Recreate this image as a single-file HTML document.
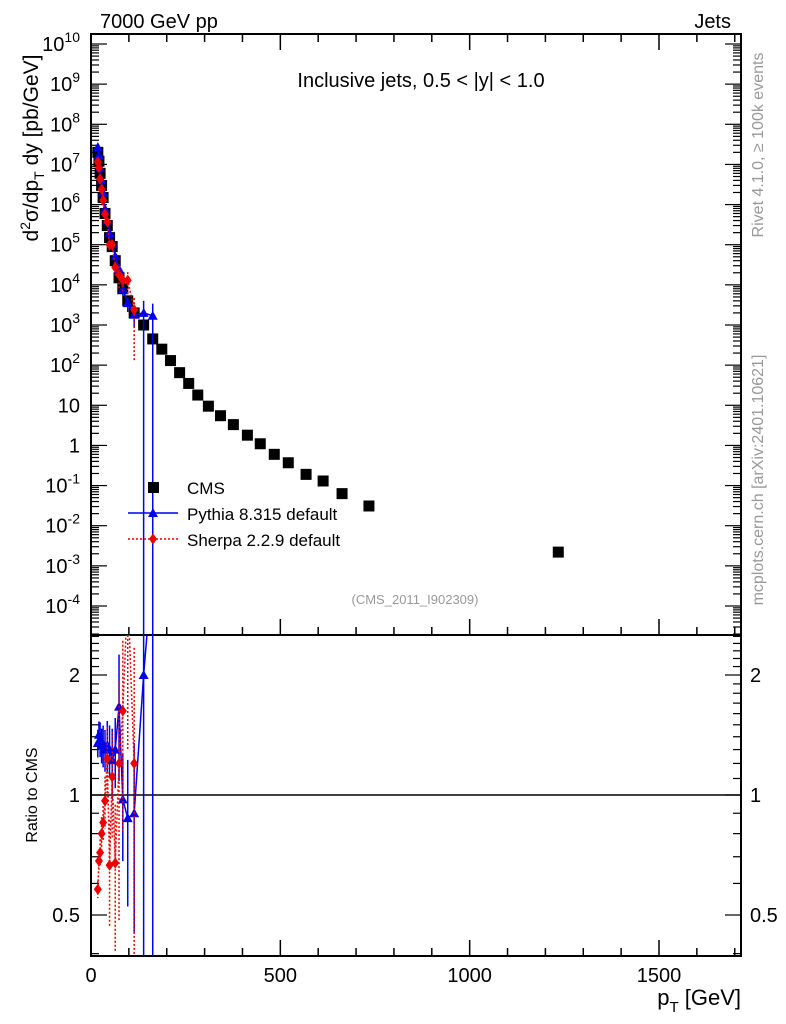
<!DOCTYPE html>
<html><head><meta charset="utf-8">
<style>
html,body{margin:0;padding:0;background:#fff;}
svg{display:block;font-family:"Liberation Sans",sans-serif;}
</style></head>
<body>
<svg id="chart" width="786" height="1024" viewBox="0 0 786 1024">
<g id="main"></g>
<text x="100" y="28" font-size="20">7000 GeV pp</text>
<text x="731" y="28" font-size="20" text-anchor="end">Jets</text>
<text x="421" y="87" font-size="20" text-anchor="middle">Inclusive jets, 0.5 &lt; |y| &lt; 1.0</text>
<text x="415" y="604" font-size="13" fill="#999" text-anchor="middle">(CMS_2011_I902309)</text>
<text transform="translate(38,148) rotate(-90)" font-size="21" text-anchor="middle">d<tspan font-size="14" dy="-8">2</tspan><tspan dy="8">σ/dp</tspan><tspan font-size="14" dy="6">T</tspan><tspan dy="-6"> dy [pb/GeV]</tspan></text>
<text transform="translate(37,795) rotate(-90)" font-size="16" text-anchor="middle">Ratio to CMS</text>
<text x="741" y="1005" font-size="22" text-anchor="end">p<tspan font-size="15" dy="7">T</tspan><tspan dy="-7"> [GeV]</tspan></text>
<text transform="translate(763,145) rotate(-90)" font-size="16" fill="#999" text-anchor="middle">Rivet 4.1.0, ≥ 100k events</text>
<text transform="translate(763,480) rotate(-90)" font-size="16" fill="#999" text-anchor="middle">mcplots.cern.ch [arXiv:2401.10621]</text>
</svg>
<script>
const cmsPt=[18,21,24,28,32,37,43,49,56,64,74,84,97,114,139,163,187,210,234,258,282,310,342,376,413,447,484,521,568,613,663,734,1234];
const cmsVal=[2e7,1.2e7,6e6,3e6,1.5e6,6e5,3e5,1.5e5,9e4,4e4,1.5e4,8e3,4e3,2e3,1000,450,250,130,65,35,18,9.5,5.5,3.3,1.8,1.1,0.6,0.37,0.19,0.13,0.063,0.031,0.0022];
const pyPt=[18,21,24,28,32,37,43,49,56,64,74,84,97,114,139,163];
const pyVal=[2.7e7,1.7e7,8.3e6,4e6,2e6,7.8e5,4e5,1.95e5,1.1e5,5.2e4,2.5e4,7.8e3,3.5e3,1.8e3,2e3,1.7e3];
const pyErr=[0.08,0.08,0.1,0.1,0.12,0.12,0.15,0.15,0.2,0.2,0.35,0.3,0.4,0.5,1,1];
const shPt=[18,21,24,28,32,37,43,49,56,64,74,84,97,114];
const shVal=[1.16e7,8.2e6,4.3e6,2.4e6,1.28e6,5.8e5,3.7e5,1.0e5,1.0e5,2.7e4,1.8e4,1.3e4,1.3e4,2.4e3];
const shErr=[0.05,0.05,0.08,0.1,0.1,0.15,0.2,0.3,0.3,0.4,0.6,0.5,0.6,0.95];
const yTickExp=[10,9,8,7,6,5,4,3,2,1,0,-1,-2,-3,-4];
const xTicks=[0,500,1000,1500];
const ratioTicks=[2,1,0.5];

const NS="http://www.w3.org/2000/svg";
const svg=document.getElementById('main');
const L=91,R=741,T=34,MB=635,RB=956;
const X=v=>L+v*(659-L)/1500;
const Y=v=>606-(Math.log10(v)+4)*(606-44)/14;
const RY=r=>795-Math.log2(r)*120;
function el(tag,attrs,parent,text){const e=document.createElementNS(NS,tag);for(const k in attrs)e.setAttribute(k,attrs[k]);if(text!==undefined)e.textContent=text;(parent||svg).appendChild(e);return e;}
function clampM(y){return Math.max(T,Math.min(MB,y));}
function clampR(y){return Math.max(MB,Math.min(RB,y));}

let f=el('rect',{x:L,y:T,width:R-L,height:MB-T,fill:'none',stroke:'#000','stroke-width':2});


f=el('rect',{x:L,y:MB,width:R-L,height:RB-MB,fill:'none',stroke:'#000','stroke-width':2});



for(let v=0;v<=1700;v+=100){
  const x=X(v),maj=v%500===0,len=maj?16:8;
  el('line',{x1:x,y1:MB,x2:x,y2:MB-len,stroke:'#000','stroke-width':1.5});
  el('line',{x1:x,y1:T,x2:x,y2:T+len,stroke:'#000','stroke-width':1.5});
  el('line',{x1:x,y1:RB,x2:x,y2:RB-len,stroke:'#000','stroke-width':1.5});
}
xTicks.forEach(v=>{
  const t=el('text',{x:X(v),y:982,'font-size':20,'text-anchor':'middle'},svg,String(v));
  
  
});
for(let e=-5;e<=10;e++){
  for(let m=1;m<10;m++){
    const v=m*Math.pow(10,e);const y=Y(v);if(y<T||y>MB)continue;
    const len=m===1?16:8;
    el('line',{x1:L,y1:y,x2:L+len,y2:y,stroke:'#000','stroke-width':1.2});
    el('line',{x1:R,y1:y,x2:R-len,y2:y,stroke:'#000','stroke-width':1.2});
  }
}
yTickExp.forEach(e=>{
  const y=Y(Math.pow(10,e));
  let t;
  if(e===1||e===0){t=el('text',{x:80,y:y+7,'font-size':20,'text-anchor':'end'},svg,e===1?'10':'1');}
  else{t=el('text',{x:80,y:y+7,'font-size':20,'text-anchor':'end'});
    el('tspan',{},t,'10');el('tspan',{'font-size':14,dy:-9},t,String(e));}
  
  
});
for(let r=0.4;r<=2.6;r=Math.round((r+0.1)*10)/10){
  const y=RY(r);if(y<MB||y>RB)continue;
  const maj=[0.5,1,2].includes(r);const len=maj?16:8;
  el('line',{x1:L,y1:y,x2:L+len,y2:y,stroke:'#000','stroke-width':1.2});
  el('line',{x1:R,y1:y,x2:R-len,y2:y,stroke:'#000','stroke-width':1.2});
}
ratioTicks.forEach(r=>{
  let t=el('text',{x:80,y:RY(r)+7,'font-size':20,'text-anchor':'end'},svg,String(r));
  
  
  t=el('text',{x:750,y:RY(r)+7,'font-size':20},svg,String(r));
  
  
});
let ln=el('line',{x1:L,y1:RY(1),x2:R,y2:RY(1),stroke:'#000','stroke-width':1.5});



function diamond(x,y,s,c,p){return el('polygon',{points:`${x},${y-s*1.4} ${x+s},${y} ${x},${y+s*1.4} ${x-s},${y}`,fill:c},p);}
function tri(x,y,s,c,p){return el('polygon',{points:`${x},${y-s} ${x+s},${y+s*0.8} ${x-s},${y+s*0.8}`,fill:c},p);}
const gc=el('g',{});
cmsPt.forEach((p,i)=>{const x=X(p),y=Y(cmsVal[i]);el('rect',{x:x-5.5,y:y-5.5,width:11,height:11,fill:'#000'},gc);});
const gp=el('g',{});
el('polyline',{points:pyPt.map((p,i)=>X(p)+','+Y(pyVal[i])).join(' '),fill:'none',stroke:'#0000ee','stroke-width':1.5},gp);
pyPt.forEach((p,i)=>{const x=X(p),v=pyVal[i],e=pyErr[i];
  el('line',{x1:x,y1:clampM(Y(v*(1+e))),x2:x,y2:clampM(Y(Math.max(v*(1-e),1e-6))),stroke:'#0000ee','stroke-width':1.5},gp);
  tri(x,Y(v),5,'#0000ee',gp);});
const gs=el('g',{});
el('polyline',{points:shPt.map((p,i)=>X(p)+','+Y(shVal[i])).join(' '),fill:'none',stroke:'#ee0000','stroke-width':1.5,'stroke-dasharray':'2,2'},gs);
shPt.forEach((p,i)=>{const x=X(p),v=shVal[i],e=shErr[i];
  el('line',{x1:x,y1:clampM(Y(v*(1+e))),x2:x,y2:clampM(Y(Math.max(v*(1-e),1e-6))),stroke:'#ee0000','stroke-width':1.5,'stroke-dasharray':'2,2'},gs);
  diamond(x,Y(v),4,'#ee0000',gs);});

const cp=document.createElementNS(NS,'clipPath');cp.id='rc';svg.appendChild(cp);
el('rect',{x:L,y:MB,width:R-L,height:RB-MB},cp);
const rp=el('g',{'clip-path':'url(#rc)'});
el('polyline',{points:pyPt.map((p,i)=>X(p)+','+RY(pyVal[i]/cmsVal[i])).join(' '),fill:'none',stroke:'#0000ee','stroke-width':1.5},rp);
pyPt.forEach((p,i)=>{const x=X(p),r=pyVal[i]/cmsVal[i],e=pyErr[i];
  el('line',{x1:x,y1:clampR(RY(r*(1+e))),x2:x,y2:clampR(RY(Math.max(r*(1-e),0.01))),stroke:'#0000ee','stroke-width':1.5},rp);
  tri(x,RY(r),5,'#0000ee',rp);});
const rs=el('g',{'clip-path':'url(#rc)'});
el('polyline',{points:shPt.map((p,i)=>X(p)+','+RY(shVal[i]/cmsVal[i])).join(' '),fill:'none',stroke:'#ee0000','stroke-width':1.5,'stroke-dasharray':'2,2'},rs);
shPt.forEach((p,i)=>{const x=X(p),r=shVal[i]/cmsVal[i],e=shErr[i];
  el('line',{x1:x,y1:clampR(RY(r*(1+e))),x2:x,y2:clampR(RY(Math.max(r*(1-e),0.01))),stroke:'#ee0000','stroke-width':1.5,'stroke-dasharray':'2,2'},rs);
  diamond(x,RY(r),4,'#ee0000',rs);});

const lg=el('g',{});
el('rect',{x:148,y:482,width:11,height:11,fill:'#000'},lg);
el('text',{x:187,y:494,'font-size':17},lg,'CMS');
el('line',{x1:128,y1:513,x2:178,y2:513,stroke:'#0000ee','stroke-width':1.5},lg);
tri(153,513,5,'#0000ee',lg);
el('text',{x:187,y:520,'font-size':17},lg,'Pythia 8.315 default');
el('line',{x1:128,y1:539,x2:178,y2:539,stroke:'#ee0000','stroke-width':1.5,'stroke-dasharray':'2,2'},lg);
diamond(153,539,4,'#ee0000',lg);
el('text',{x:187,y:546,'font-size':17},lg,'Sherpa 2.2.9 default');
</script>
</body></html>
